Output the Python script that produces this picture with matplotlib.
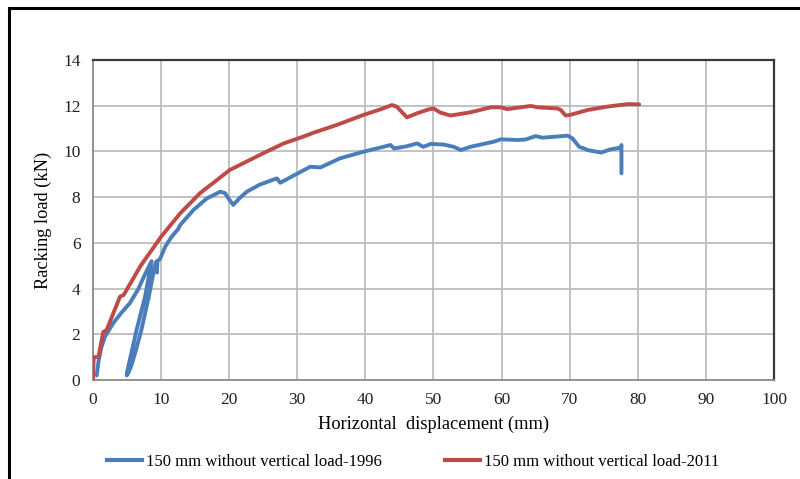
import matplotlib
matplotlib.use("Agg")
import matplotlib.pyplot as plt
from matplotlib.patches import Rectangle
from matplotlib.lines import Line2D

plt.rcParams['font.family'] = ['Liberation Serif', 'DejaVu Serif']

# Test 1996: initial loading, unload/reload loop, then monotonic loading
disp_1996 = [0.55, 0.8, 1.2, 1.76, 3.0, 4.2, 5.4, 6.6, 7.6, 8.6,
             7.65, 6.4, 5.5, 5.0, 4.95,
             5.1, 5.6, 6.3, 7.1, 8.2, 9.0, 9.2,
             9.35, 9.4, 9.45, 9.85, 10.6, 11.5, 12.5, 12.8, 14.75, 16.7,
             18.7, 19.4, 20.0, 20.6, 21.5, 22.6, 24.5, 27.0, 27.5, 29.5,
             31.9, 33.4, 36.3, 39.75, 43.7, 44.2, 46.0, 47.6, 48.5, 49.6,
             51.5, 53.0, 54.0, 55.4, 58.9, 59.9, 62.3, 63.5, 65.0, 66.0,
             69.7, 70.4, 71.4, 72.1, 72.6, 74.6, 76.0, 77.5, 77.6, 77.6]
load_1996 = [0.2, 0.8, 1.4, 1.9, 2.5, 2.95, 3.36, 3.95, 4.6, 5.2,
             3.65, 2.19, 1.0, 0.35, 0.2,
             0.25, 0.6, 1.3, 2.19, 3.65, 4.9, 5.1,
             5.2, 4.7, 5.2, 5.3, 5.83, 6.25, 6.6, 6.78, 7.44, 7.94,
             8.24, 8.17, 7.9, 7.66, 7.95, 8.24, 8.55, 8.82, 8.63, 8.95,
             9.33, 9.3, 9.7, 9.99, 10.28, 10.13, 10.22, 10.35, 10.2, 10.33,
             10.3, 10.2, 10.06, 10.2, 10.43, 10.53, 10.5, 10.52, 10.67, 10.6,
             10.69, 10.57, 10.2, 10.13, 10.06, 9.95, 10.09, 10.17, 10.28, 9.04]

# Test 2011: monotonic loading
disp_2011 = [0.0, 0.1, 0.8, 1.5, 2.0, 3.97, 4.5, 7.0, 10.0, 12.8,
             15.7, 20.1, 25.0, 28.0, 30.9, 32.4, 35.8, 39.75, 42.2, 43.9,
             44.6, 46.1, 47.6, 49.3, 50.0, 51.0, 52.5, 55.4, 58.4, 59.9,
             60.8, 64.3, 65.3, 68.2, 68.7, 69.4, 70.1, 72.6, 75.5, 78.5, 80.2]
load_2011 = [0.0, 1.0, 1.0, 2.1, 2.19, 3.65, 3.72, 5.0, 6.27, 7.29,
             8.17, 9.19, 9.92, 10.35, 10.65, 10.82, 11.16, 11.6, 11.84, 12.03,
             11.96, 11.49, 11.67, 11.84, 11.88, 11.7, 11.57, 11.71, 11.93, 11.93,
             11.85, 11.99, 11.93, 11.88, 11.81, 11.57, 11.6, 11.81, 11.96, 12.07, 12.06]

labels = ["150 mm without vertical load-1996", "150 mm without vertical load-2011"]
colors = ["#4A7EBB", "#BE4B48"]

fig = plt.figure(figsize=(8.0, 4.79), dpi=100)
ax = fig.add_axes([93 / 800, 1 - 380 / 479, (774 - 93) / 800, (380 - 60) / 479])

ax.plot(disp_1996, load_1996, color=colors[0], lw=2.8, solid_joinstyle='round',
        solid_capstyle='round', zorder=3)
ax.plot(disp_2011, load_2011, color=colors[1], lw=2.8, solid_joinstyle='round',
        solid_capstyle='round', zorder=3)

ax.set_xlim(0, 100)
ax.set_ylim(0, 14)
ax.set_xticks(range(0, 101, 10))
ax.set_yticks(range(0, 15, 2))
ax.grid(True, color="#BDBDBD", lw=1.3, zorder=0)
ax.set_axisbelow(True)
ax.tick_params(length=0, labelsize=12.5, pad=9, colors="#222222")

for side in ("left", "bottom"):
    ax.spines[side].set_color("#8C8C8C")
    ax.spines[side].set_linewidth(1.3)
for side in ("top", "right"):
    ax.spines[side].set_color("#3A3A3A")
    ax.spines[side].set_linewidth(1.6)

ax.set_xlabel("Horizontal  displacement (mm)", fontsize=13.2, labelpad=5)
ax.set_ylabel("Racking load (kN)", fontsize=13.2, labelpad=8)

handles = [Line2D([], [], color=c, lw=3) for c in colors]
fig.legend(handles, labels, loc="center",
           bbox_to_anchor=(0.5 + 13 / 800, 1 - 462 / 479),
           ncol=2, frameon=False, fontsize=12, handlelength=2.1,
           handletextpad=0.25, columnspacing=3.8)

# outer chart frame
fig.patches.append(Rectangle((8.5 / 800, -0.2), 1.2, 1.2 - 8 / 479,
                             transform=fig.transFigure, fill=False,
                             edgecolor="black", lw=2.2))

fig.savefig("out.png", dpi=100)
